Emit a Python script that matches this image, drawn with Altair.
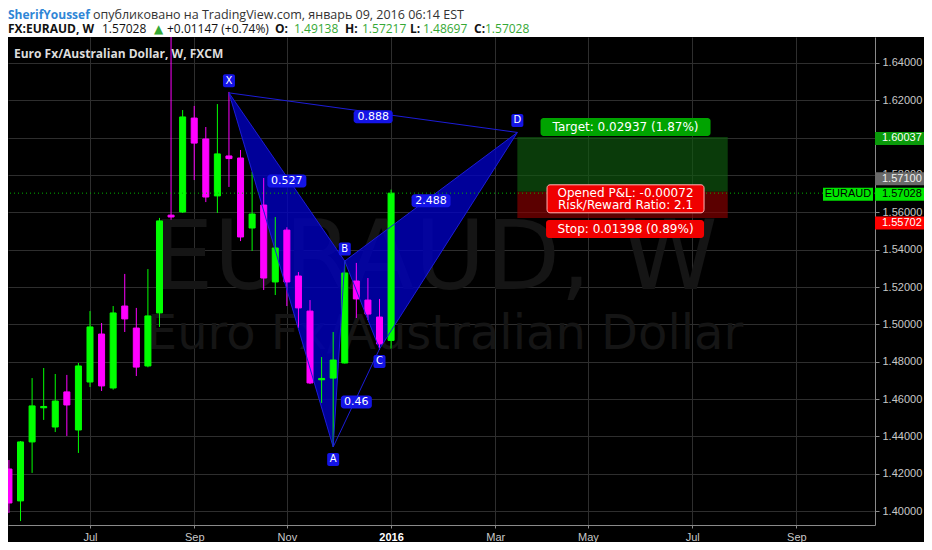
import altair as alt
import pandas as pd
import numpy as np

# ---------------- data ----------------
week_dates = [
    "2015-05-18", "2015-05-25", "2015-06-01", "2015-06-08", "2015-06-15", "2015-06-22",
    "2015-06-29", "2015-07-06", "2015-07-13", "2015-07-20", "2015-07-27", "2015-08-03",
    "2015-08-10", "2015-08-17", "2015-08-24", "2015-08-31", "2015-09-07", "2015-09-14",
    "2015-09-21", "2015-09-28", "2015-10-05", "2015-10-12", "2015-10-19", "2015-10-26",
    "2015-11-02", "2015-11-09", "2015-11-16", "2015-11-23", "2015-11-30", "2015-12-07",
    "2015-12-14", "2015-12-21", "2015-12-28", "2016-01-04",
]
opens = [1.4225, 1.4054, 1.4370, 1.4553, 1.4450, 1.4638, 1.4434, 1.4691, 1.4948, 1.4659,
         1.5098, 1.4980, 1.4777, 1.5061, 1.5585, 1.5602, 1.6105, 1.5993, 1.5688, 1.5902,
         1.5891, 1.5516, 1.5639, 1.5227, 1.5505, 1.5259, 1.5071, 1.4703, 1.4712, 1.4793,
         1.5232, 1.5130, 1.5039, 1.49138]
highs = [1.4273, 1.4375, 1.4712, 1.4766, 1.4734, 1.4729, 1.4793, 1.5071, 1.5007, 1.5098,
         1.5270, 1.5088, 1.5296, 1.5570, 1.6600, 1.6148, 1.6170, 1.6057, 1.6180, 1.6245,
         1.5934, 1.5816, 1.5784, 1.5575, 1.5520, 1.5280, 1.5130, 1.4825, 1.4959, 1.5339,
         1.5329, 1.5248, 1.5136, 1.57217]
lows = [1.3989, 1.3946, 1.4204, 1.4488, 1.4423, 1.4402, 1.4311, 1.4664, 1.4643, 1.4650,
        1.4959, 1.4723, 1.4770, 1.4986, 1.5560, 1.5597, 1.5773, 1.5655, 1.5597, 1.5736,
        1.5446, 1.5393, 1.5184, 1.5157, 1.5098, 1.4980, 1.4680, 1.4579, 1.4343, 1.4790,
        1.5034, 1.5023, 1.4863, 1.48697]
closes = [1.4043, 1.4370, 1.4563, 1.4560, 1.4589, 1.4568, 1.4777, 1.4986, 1.4670, 1.5061,
          1.5029, 1.4771, 1.5045, 1.5554, 1.5575, 1.6111, 1.5971, 1.5682, 1.5913, 1.5888,
          1.5468, 1.5591, 1.5248, 1.5409, 1.5227, 1.5088, 1.4686, 1.4710, 1.4809, 1.5275,
          1.5136, 1.5055, 1.4895, 1.57028]

tick_dates = ["2015-07-06", "2015-09-07", "2015-11-02", "2016-01-04",
              "2016-03-07", "2016-05-02", "2016-07-04", "2016-09-05"]
tick_labels = ["Jul", "Sep", "Nov", "2016", "Mar", "May", "Jul", "Sep"]
price_ticks = [1.40, 1.42, 1.44, 1.46, 1.48, 1.50, 1.52, 1.54, 1.56, 1.58, 1.60, 1.62, 1.64]

pattern_names = ["X", "A", "B", "C", "D"]
pattern_dates = ["2015-09-28", "2015-11-30", "2015-12-07", "2015-12-28", "2016-03-20T08:00"]
pattern_prices = [1.6240, 1.4343, 1.5339, 1.4868, 1.6028]
pattern_triangles = [("X", "A", "B"), ("B", "C", "D")]
pattern_segments = [("X", "A"), ("A", "B"), ("B", "X"), ("B", "C"), ("C", "D"), ("D", "B"),
                    ("X", "D"), ("A", "C")]
ratio_labels = ["0.888", "0.527", "0.46", "2.488"]
ratio_legs = [("X", "D"), ("X", "B"), ("A", "C"), ("B", "D")]
labels_above = ["X", "B", "D"]

last_price = 1.57028
entry_price = 1.57100
target_price = 1.60037
stop_price = 1.55702
position_end = "2016-07-25T12:00"
target_text = "Target: 0.02937 (1.87%)"
pnl_text = "Opened P&L: -0.00072"
rr_text = "Risk/Reward Ratio: 2.1"
stop_text = "Stop: 0.01398 (0.89%)"
symbol = "EURAUD"

header_row1 = [("SherifYoussef", "#2f86d6", "bold"),
               ("опубликовано на TradingView.com, январь 09, 2016 06:14 EST", "#333333", "normal")]
header_row2 = [("FX:EURAUD, W", "#111111", "bold"), ("1.57028", "#111111", "normal"),
               ("▲", "#35a835", "normal"), ("+0.01147 (+0.74%)", "#111111", "normal"),
               ("O:", "#111111", "bold"), ("1.49138", "#35a835", "normal"),
               ("H:", "#111111", "bold"), ("1.57217", "#35a835", "normal"),
               ("L:", "#111111", "bold"), ("1.48697", "#35a835", "normal"),
               ("C:", "#111111", "bold"), ("1.57028", "#35a835", "normal")]
chart_title = "Euro Fx/Australian Dollar, W, FXCM"
watermark_big = "EURAUD, W"
watermark_small = "Euro Fx/Australian Dollar"

# ---------------- layout ----------------
W, H = 867, 488
PXW = 11.58                       # pixels per week
base = pd.Timestamp(week_dates[0])


def wk(d):
    return (pd.Timestamp(d) - base).total_seconds() / (7 * 86400)


x_lo = 7 - 82 / PXW
x_hi = x_lo + W / PXW
y_hi = 1.64 + 26 / 1866.67
y_lo = 1.40 - 14 / 1866.67

tick_weeks = [int(round(wk(d))) for d in tick_dates]
expr = "''"
for wv, lab in reversed(list(zip(tick_weeks, tick_labels))):
    expr = f"datum.value == {wv} ? '{lab}' : ({expr})"
jan_week = tick_weeks[tick_labels.index("2016")]

GRID = "#2e2e2e"
AX = "#8a8a8a"
LBL = "#c8c8c8"
BLUE = "#1414e6"
X_SCALE = alt.Scale(domain=[x_lo, x_hi], nice=False, zero=False)
Y_SCALE = alt.Scale(domain=[y_lo, y_hi], nice=False, zero=False)
X_AXIS = alt.Axis(values=tick_weeks, labelExpr=expr, title="", grid=True, gridColor=GRID,
                  domainColor=AX, tickColor=AX, tickSize=3, labelPadding=3,
                  labelFont="Liberation Sans", labelFontSize=11,
                  labelColor={"condition": {"test": f"datum.value == {jan_week}", "value": "#ffffff"},
                              "value": LBL},
                  labelFontWeight={"condition": {"test": f"datum.value == {jan_week}", "value": "bold"},
                                   "value": "normal"})
Y_AXIS = alt.Axis(values=price_ticks, format=".5f", orient="right", title="", grid=True,
                  gridColor=GRID, domainColor=AX, tickColor=AX, tickSize=4, labelPadding=3,
                  labelFont="Liberation Sans", labelFontSize=11, labelColor=LBL)


def X(f):
    return alt.X(f, type="quantitative", scale=X_SCALE, axis=X_AXIS)


def Y(f):
    return alt.Y(f, type="quantitative", scale=Y_SCALE, axis=Y_AXIS)


one = pd.DataFrame({"k": [0]})

# ---------------- tables ----------------
cd = pd.DataFrame({"w": [wk(d) for d in week_dates], "o": opens, "h": highs, "l": lows, "c": closes})
cd["lo"] = np.minimum(cd.o, cd.c)
cd["hi"] = np.maximum(cd.o, cd.c)
cd["col"] = np.where(cd.c >= cd.o, "#00ff00", "#ff00ff")

pw = {n: wk(d) for n, d in zip(pattern_names, pattern_dates)}
pp = dict(zip(pattern_names, pattern_prices))

tri_rows = []
for i, (a, b, c) in enumerate(pattern_triangles):
    # upper edge a->c, lower edge a->b->c (vertices ordered by time)
    for n in (a, b, c):
        up = np.interp(pw[n], [pw[a], pw[c]], [pp[a], pp[c]])
        tri_rows.append({"tri": i, "w": pw[n], "lo": min(pp[n], up), "hi": max(pp[n], up)})
tri = pd.DataFrame(tri_rows)

seg_rows = []
for i, (a, b) in enumerate(pattern_segments):
    seg_rows.append({"seg": i, "k": 0, "w": pw[a], "p": pp[a]})
    seg_rows.append({"seg": i, "k": 1, "w": pw[b], "p": pp[b]})
segs = pd.DataFrame(seg_rows)

ratios = pd.DataFrame({"label": ratio_labels,
                       "w": [(pw[a] + pw[b]) / 2 for a, b in ratio_legs],
                       "p": [(pp[a] + pp[b]) / 2 for a, b in ratio_legs]})
pts = pd.DataFrame({"name": pattern_names, "w": [pw[n] for n in pattern_names], "p": pattern_prices})
pts_above = pts[pts.name.isin(labels_above)]
pts_below = pts[~pts.name.isin(labels_above)]

w_end = wk(position_end)
w_mid = (pw["D"] + w_end) / 2
pos = pd.DataFrame({"w0": [pw["D"], pw["D"]], "w1": [w_end, w_end],
                    "p0": [entry_price, stop_price], "p1": [target_price, entry_price],
                    "fill": ["#0f5a0f", "#8c0000"]})

layers = []

# watermark
layers.append(alt.Chart(one).mark_text(text=watermark_big, font="DejaVu Sans", fontSize=97,
                                       color="#151515", align="center", baseline="alphabetic")
              .encode(x=alt.value(427), y=alt.value(252)))
layers.append(alt.Chart(one).mark_text(text=watermark_small, font="DejaVu Sans", fontSize=48,
                                       color="#151515", align="center", baseline="alphabetic")
              .encode(x=alt.value(437), y=alt.value(312)))

# position box
layers.append(alt.Chart(pos).mark_rect(opacity=0.65).encode(
    x=X("w0"), x2=alt.X2("w1"), y=Y("p0"), y2=alt.Y2("p1"), color=alt.Color("fill:N", scale=None)))

# pattern fill
layers.append(alt.Chart(tri).mark_area(color="#0000c4", opacity=0.78).encode(
    x=X("w"), y=Y("lo"), y2=alt.Y2("hi"), detail="tri:N"))

# candles
layers.append(alt.Chart(cd).mark_rule(clip=True, strokeWidth=1).encode(
    x=X("w"), y=Y("l"), y2=alt.Y2("h"), color=alt.Color("col:N", scale=None)))
layers.append(alt.Chart(cd).transform_calculate(xl="datum.w - 0.26", xr="datum.w + 0.26")
              .mark_rect(clip=True, strokeWidth=1).encode(
    x=X("xl"), x2=alt.X2("xr"), y=Y("lo"), y2=alt.Y2("hi"),
    color=alt.Color("col:N", scale=None), stroke=alt.Stroke("col:N", scale=None)))

# pattern lines
layers.append(alt.Chart(segs).mark_line(color="#1c1cd8", strokeWidth=1).encode(
    x=X("w"), y=Y("p"), detail="seg:N", order="k:Q"))

# last price dotted line
layers.append(alt.Chart(pd.DataFrame({"p": [last_price]})).mark_rule(
    color="#00b400", strokeDash=[1, 3], strokeWidth=1).encode(y=Y("p")))

# ratio labels
wide = ratios[ratios.label.str.len() == 5]
narrow = ratios[ratios.label.str.len() != 5]
layers.append(alt.Chart(wide).mark_rect(color=BLUE, cornerRadius=3, xOffset=-19.5, x2Offset=19.5,
                                        yOffset=-2.5, y2Offset=10.5)
              .encode(x=X("w"), x2=alt.X2("w"), y=Y("p"), y2=alt.Y2("p")))
layers.append(alt.Chart(narrow).mark_rect(color=BLUE, cornerRadius=3, xOffset=-15.5, x2Offset=15.5,
                                          yOffset=-2.5, y2Offset=10.5)
              .encode(x=X("w"), x2=alt.X2("w"), y=Y("p"), y2=alt.Y2("p")))
layers.append(alt.Chart(ratios).mark_text(color="white", font="DejaVu Sans", fontSize=11,
                                          baseline="middle", dy=4)
              .encode(x=X("w"), y=Y("p"), text="label:N"))

# point labels
layers.append(alt.Chart(pts_above).mark_rect(color=BLUE, cornerRadius=2, xOffset=-6, x2Offset=6,
                                             yOffset=-18.5, y2Offset=-5.5)
              .encode(x=X("w"), x2=alt.X2("w"), y=Y("p"), y2=alt.Y2("p")))
layers.append(alt.Chart(pts_above).mark_text(color="white", font="DejaVu Sans", fontSize=10,
                                             baseline="middle", dy=-12)
              .encode(x=X("w"), y=Y("p"), text="name:N"))
layers.append(alt.Chart(pts_below).mark_rect(color=BLUE, cornerRadius=2, xOffset=-6, x2Offset=6,
                                             yOffset=6, y2Offset=19)
              .encode(x=X("w"), x2=alt.X2("w"), y=Y("p"), y2=alt.Y2("p")))
layers.append(alt.Chart(pts_below).mark_text(color="white", font="DejaVu Sans", fontSize=10,
                                             baseline="middle", dy=12.5)
              .encode(x=X("w"), y=Y("p"), text="name:N"))

# position labels
tdf = pd.DataFrame({"w": [w_mid], "p": [target_price], "t": [target_text]})
edf = pd.DataFrame({"w": [w_mid], "p": [entry_price], "t": [pnl_text], "t2": [rr_text]})
sdf = pd.DataFrame({"w": [w_mid], "p": [stop_price], "t": [stop_text]})
layers.append(alt.Chart(tdf).mark_rect(color="#00a300", cornerRadius=3, xOffset=-82, x2Offset=88,
                                       yOffset=-19, y2Offset=-1)
              .encode(x=X("w"), x2=alt.X2("w"), y=Y("p"), y2=alt.Y2("p")))
layers.append(alt.Chart(tdf).mark_text(color="white", font="DejaVu Sans", fontSize=12,
                                       baseline="middle", dx=3, dy=-10)
              .encode(x=X("w"), y=Y("p"), text="t:N"))
layers.append(alt.Chart(edf).mark_rect(color="#f00000", stroke="#ffb4b4", strokeWidth=1, cornerRadius=3,
                                       xOffset=-75.5, x2Offset=81.5, yOffset=-7, y2Offset=21)
              .encode(x=X("w"), x2=alt.X2("w"), y=Y("p"), y2=alt.Y2("p")))
layers.append(alt.Chart(edf).mark_text(color="white", font="DejaVu Sans", fontSize=12,
                                       baseline="middle", dx=3, dy=1.5)
              .encode(x=X("w"), y=Y("p"), text="t:N"))
layers.append(alt.Chart(edf).mark_text(color="white", font="DejaVu Sans", fontSize=12,
                                       baseline="middle", dx=3, dy=13.5)
              .encode(x=X("w"), y=Y("p"), text="t2:N"))
layers.append(alt.Chart(sdf).mark_rect(color="#f00000", cornerRadius=3, xOffset=-76.5, x2Offset=81.5,
                                       yOffset=2, y2Offset=20)
              .encode(x=X("w"), x2=alt.X2("w"), y=Y("p"), y2=alt.Y2("p")))
layers.append(alt.Chart(sdf).mark_text(color="white", font="DejaVu Sans", fontSize=12,
                                       baseline="middle", dx=3, dy=11)
              .encode(x=X("w"), y=Y("p"), text="t:N"))


# price tags on the right axis (shifted a little where TradingView avoids overlaps)
def price_tag(price, bg, fg, shift):
    df = pd.DataFrame({"p": [price], "label": [f"{price:.5f}"]})
    box = alt.Chart(df).mark_rect(color=bg, yOffset=shift - 6.5, y2Offset=shift + 6.5).encode(
        x=alt.value(W), x2=alt.value(W + 52), y=Y("p"), y2=alt.Y2("p"))
    txt = alt.Chart(df).mark_text(color=fg, font="Liberation Sans", fontSize=11, align="left",
                                  baseline="middle", dy=shift).encode(
        x=alt.value(W + 7), y=Y("p"), text="label:N")
    return [box, txt]


layers += price_tag(target_price, "#0a9a0a", "#ffffff", 1.5)
layers += price_tag(entry_price, "#6a6a6a", "#eeeeee", -13)
layers += price_tag(last_price, "#00e600", "#000000", 1)
layers += price_tag(stop_price, "#ff0000", "#ffffff", 5)

sym = pd.DataFrame({"p": [last_price], "label": [symbol]})
layers.append(alt.Chart(sym).mark_rect(color="#00e600", yOffset=-5.5, y2Offset=7.5)
              .encode(x=alt.value(W - 52), x2=alt.value(W - 2), y=Y("p"), y2=alt.Y2("p")))
layers.append(alt.Chart(sym).mark_text(color="#000000", font="Liberation Sans", fontSize=11,
                                       align="center", baseline="middle", dy=1)
              .encode(x=alt.value(W - 27), y=Y("p"), text="label:N"))

# chart title inside the plot
layers.append(alt.Chart(one).mark_text(text=chart_title, font="Open Sans", fontSize=12, fontWeight="bold",
                                       color="#dddddd", align="left", baseline="alphabetic")
              .encode(x=alt.value(6), y=alt.value(21)))

# header band
layers.append(alt.Chart(one).mark_rect(color="#ffffff")
              .encode(x=alt.value(0), x2=alt.value(W + 49), y=alt.value(-29), y2=alt.value(0)))
row1_x = [0, 85]
row1_size = [12, 12.5]
row2_x = [0, 94, 146, 159, 267, 286, 337, 354, 402, 415, 466, 477]
for (t, col, fw), px, fs in zip(header_row1, row1_x, row1_size):
    layers.append(alt.Chart(one).mark_text(text=t, font="Open Sans", fontSize=fs, fontWeight=fw,
                                           color=col, align="left", baseline="alphabetic")
                  .encode(x=alt.value(px), y=alt.value(-18)))
for (t, col, fw), px in zip(header_row2, row2_x):
    fnt = "DejaVu Sans" if t == "▲" else "Open Sans"
    layers.append(alt.Chart(one).mark_text(text=t, font=fnt, fontSize=12, fontWeight=fw,
                                           color=col, align="left", baseline="alphabetic")
                  .encode(x=alt.value(px), y=alt.value(-4)))

chart = alt.layer(*layers).properties(
    width=W, height=H,
    padding={"left": 0, "top": 29, "right": 49, "bottom": 17},
    autosize=alt.AutoSizeParams(type="none"),
    background="#000000",
).configure_view(strokeWidth=0)

chart.save("out.html", embed_options={"renderer": "svg", "actions": False})
